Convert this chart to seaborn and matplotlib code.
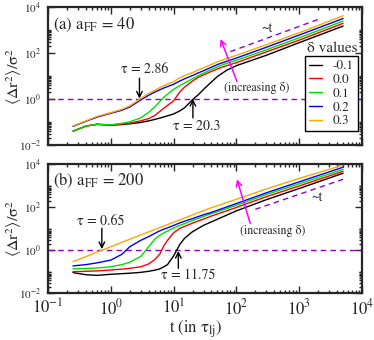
import numpy as np
import pandas as pd
import seaborn as sns
import matplotlib
matplotlib.use("Agg")
import matplotlib.pyplot as plt
from matplotlib.ticker import FixedLocator, NullFormatter, LogFormatterMathtext

# ---------------- data ----------------
deltas = ["-0.1", "0.0", "0.1", "0.2", "0.3"]
colors = ["#000000", "#ff0000", "#00e000", "#0000ff", "#ffa500"]

# panel (a): a_FF = 40
t_a = [0.25, 0.4, 0.6, 1, 1.5, 2, 3, 4, 5, 7, 10, 12.5, 15, 20, 25, 30, 40, 50, 70, 100, 300, 1000, 5000]
msd_a_m01 = [0.0398, 0.0661, 0.0794, 0.0724, 0.0776, 0.0832, 0.0955, 0.112, 0.129, 0.166, 0.224, 0.302,
             0.417, 0.933, 1.58, 2.63, 5.50, 9.55, 17.8, 28.2, 79.4, 282, 1480]
msd_a_00 = [0.0398, 0.0661, 0.0794, 0.0741, 0.0813, 0.0891, 0.112, 0.141, 0.191, 0.398, 0.832, 2.00,
            3.31, 6.03, 8.91, 11.2, 15.8, 20.4, 28.2, 38.0, 112, 363, 1950]
msd_a_01 = [0.0398, 0.0661, 0.0794, 0.0759, 0.0871, 0.102, 0.151, 0.263, 0.447, 1.20, 2.63, 3.80,
            5.01, 7.59, 10.5, 13.2, 19.1, 25.1, 35.5, 47.9, 138, 457, 2450]
msd_a_02 = [0.0646, 0.107, 0.162, 0.240, 0.324, 0.447, 0.912, 1.45, 2.00, 3.02, 4.37, 6.03,
            7.59, 10.5, 13.8, 17.0, 24.0, 31.6, 43.7, 60.3, 178, 603, 3160]
msd_a_03 = [0.0676, 0.112, 0.174, 0.257, 0.355, 0.501, 1.05, 1.74, 2.40, 3.80, 5.62, 8.32,
            10.5, 14.1, 18.6, 22.9, 31.6, 41.7, 57.5, 79.4, 229, 759, 4170]

# panel (b): a_FF = 200
t_b = [0.25, 0.4, 0.6, 1, 1.5, 2, 3, 4, 5, 6, 7, 8, 10, 12.5, 15, 20, 30, 40, 100, 300, 1000, 5000]
msd_b_m01 = [0.0891, 0.0708, 0.0661, 0.0741, 0.0794, 0.0832, 0.0912, 0.102, 0.115, 0.132, 0.166, 0.209,
             0.525, 1.78, 3.55, 7.08, 14.1, 20.4, 66.1, 219, 724, 3720]
msd_b_00 = [0.0977, 0.102, 0.107, 0.117, 0.129, 0.141, 0.166, 0.224, 0.355, 0.631, 1.58, 2.82,
            6.31, 10.0, 12.6, 17.8, 27.5, 38.0, 95.5, 302, 955, 4570]
msd_b_01 = [0.132, 0.138, 0.145, 0.166, 0.209, 0.269, 0.501, 1.41, 3.16, 4.79, 6.31, 7.59,
            10.5, 13.8, 17.0, 23.4, 36.3, 49.0, 120, 380, 1200, 5620]
msd_b_02 = [0.182, 0.209, 0.251, 0.339, 0.631, 1.41, 2.82, 4.17, 5.89, 7.76, 9.33, 10.7,
            13.8, 18.2, 21.9, 28.8, 43.7, 56.2, 145, 457, 1480, 7080]
msd_b_03 = [0.288, 0.490, 0.794, 1.41, 2.29, 3.16, 5.01, 6.92, 8.91, 11.0, 13.2, 15.1,
            19.5, 25.1, 30.9, 42.7, 67.6, 93.3, 229, 692, 2140, 8910]

# guide lines ~t
guide_a_t = [80, 2000]
guide_a_y = [115, 2875]
guide_b_t = [200, 5000]
guide_b_y = [78, 1950]

panel_labels = [r"(a) a$_{\rm FF}$ = 40", r"(b) a$_{\rm FF}$ = 200"]
tau_a = ["τ = 2.86", "τ = 20.3"]
tau_b = ["τ = 0.65", "τ = 11.75"]


def long_frame(t, series):
    rows = []
    for d, vals in zip(deltas, series):
        for ti, v in zip(t, vals):
            rows.append({"t": ti, "msd": v, "delta": d})
    return pd.DataFrame(rows)


df_a = long_frame(t_a, [msd_a_m01, msd_a_00, msd_a_01, msd_a_02, msd_a_03])
df_b = long_frame(t_b, [msd_b_m01, msd_b_00, msd_b_01, msd_b_02, msd_b_03])

# ---------------- style ----------------
sns.set_style("ticks")
plt.rcParams["font.family"] = ["STIXGeneral", "DejaVu Sans"]
plt.rcParams["mathtext.fontset"] = "stix"
plt.rcParams["mathtext.default"] = "regular"

fig = plt.figure(figsize=(3.74, 3.40), dpi=100)
L, R = 48 / 374, 362 / 374
ax_a = fig.add_axes([L, 1 - 145 / 340, R - L, 138 / 340])
ax_b = fig.add_axes([L, 1 - 293 / 340, R - L, 129 / 340])

palette = dict(zip(deltas, colors))
purple = "#9400d3"
magenta = "#ff00ff"

for ax, df in [(ax_a, df_a), (ax_b, df_b)]:
    sns.lineplot(data=df, x="t", y="msd", hue="delta", hue_order=deltas, palette=palette,
                 ax=ax, legend=False, linewidth=1.0, estimator=None, sort=True)
    ax.set_xscale("log")
    ax.set_yscale("log")
    ax.set_xlim(0.1, 1e4)
    ax.set_ylim(1e-2, 1e4)
    ax.axhline(1.0, color=purple, lw=1.0, dashes=(4, 3), zorder=1)
    for s in ax.spines.values():
        s.set_linewidth(1.6)
        s.set_visible(True)
    ax.xaxis.set_major_locator(FixedLocator([1e-1, 1, 1e1, 1e2, 1e3, 1e4]))
    ax.xaxis.set_minor_locator(FixedLocator([k * 10.0 ** n for n in range(-1, 4) for k in range(2, 10)]))
    ax.yaxis.set_major_locator(FixedLocator([1e-2, 1, 1e2, 1e4]))
    ax.yaxis.set_minor_locator(FixedLocator([k * 10.0 ** n for n in (-2, 0, 2) for k in range(2, 11)]))
    ax.yaxis.set_major_formatter(LogFormatterMathtext())
    ax.xaxis.set_major_formatter(LogFormatterMathtext())
    ax.yaxis.set_minor_formatter(NullFormatter())
    ax.xaxis.set_minor_formatter(NullFormatter())
    ax.tick_params(which="both", direction="in", top=True, right=True, width=1.0)
    ax.tick_params(which="major", length=5)
    ax.tick_params(which="minor", length=2.5)
    ax.tick_params(axis="y", labelsize=8, pad=5)
    ax.tick_params(axis="x", labelsize=12, pad=4)
    ax.set_ylabel(r"$\langle\Delta \mathrm{r}^2\rangle/\sigma^2$", fontsize=11.5)
    ax.yaxis.set_label_coords(-0.078, 0.5)
    ax.set_xlabel("")

ax_a.tick_params(axis="x", labelbottom=False)
ax_b.set_xlabel(r"t (in $\tau_{\rm lj}$)", fontsize=12, labelpad=0)
ax_b.xaxis.set_label_coords(0.47, -0.195)

# guide lines
ax_a.plot(guide_a_t, guide_a_y, color=purple, lw=1.0, dashes=(4, 3))
ax_b.plot(guide_b_t, guide_b_y, color=purple, lw=1.0, dashes=(4, 3))
ax_a.text(309, 1180, "~t", fontsize=10, ha="center", va="center")
ax_b.text(1930, 282, "~t", fontsize=10, ha="center", va="center")

# panel labels
ax_a.text(0.016, 0.87, panel_labels[0], transform=ax_a.transAxes, fontsize=12, va="center")
ax_b.text(0.016, 0.87, panel_labels[1], transform=ax_b.transAxes, fontsize=12, va="center")

# tau annotations
arr = dict(arrowstyle="->", color="black", lw=1.0, shrinkA=0, shrinkB=0)
ax_a.annotate("", xy=(2.86, 1.05), xytext=(2.86, 8.0), arrowprops=arr)
ax_a.text(3.52, 18.6, tau_a[0], fontsize=10, ha="center", va="center")
ax_a.annotate("", xy=(20.3, 1.0), xytext=(20.3, 0.15), arrowprops=arr)
ax_a.text(23.4, 0.065, tau_a[1], fontsize=10, ha="center", va="center")
ax_b.annotate("", xy=(0.72, 1.1), xytext=(0.72, 10.2), arrowprops=arr)
ax_b.text(0.68, 20.8, tau_b[0], fontsize=10, ha="center", va="center")
ax_b.annotate("", xy=(11.9, 0.9), xytext=(11.9, 0.14), arrowprops=arr)
ax_b.text(17.3, 0.069, tau_b[1], fontsize=10, ha="center", va="center")

# increasing delta arrows
marr = dict(arrowstyle="->", color=magenta, lw=1.1, shrinkA=0, shrinkB=0)
ax_a.annotate("", xy=(56, 407), xytext=(102, 5.8), arrowprops=marr)
ax_a.text(214, 3.0, "(increasing δ)", fontsize=8.5, ha="center", va="center")
ax_b.annotate("", xy=(102, 1950), xytext=(166, 17.4), arrowprops=marr)
ax_b.text(380, 7.9, "(increasing δ)", fontsize=8.5, ha="center", va="center")

# legend
handles = [plt.Line2D([], [], color=c, lw=1.0) for c in colors]
leg = ax_a.legend(handles, deltas, loc="upper right", bbox_to_anchor=(0.987, 0.645),
                  fontsize=9.5, frameon=True, fancybox=False, framealpha=1, edgecolor="black",
                  handlelength=1.0, handletextpad=0.8, borderpad=0.3, labelspacing=0.12,
                  borderaxespad=0)
leg.get_frame().set_linewidth(1.0)
ax_a.text(0.904, 0.70, "δ values", transform=ax_a.transAxes, fontsize=11, ha="center", va="center")

fig.savefig("out.png", dpi=100)
